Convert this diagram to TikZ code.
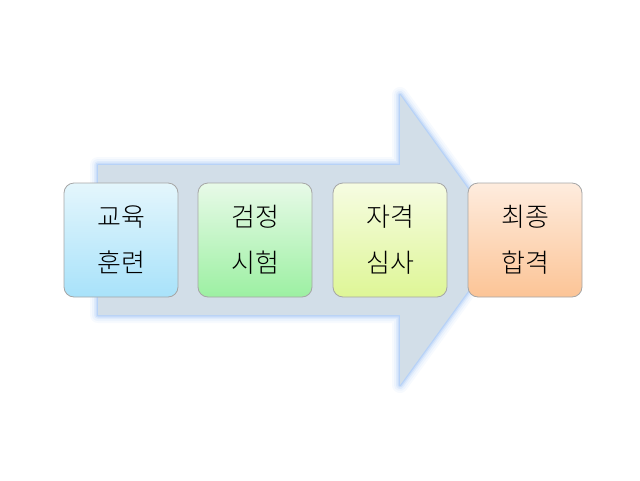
\documentclass[tikz,border=0pt]{standalone}
\usepackage{fontspec}
\newfontfamily\kr{Noto Sans CJK KR Light}
\tikzset{
 stage/.style={draw=black!35, line width=0.8pt, rounded corners=10pt, minimum width=114pt, minimum height=114pt, align=center, font=\kr\fontsize{26}{46}\selectfont, shading=axis, shading angle=0},
}
\begin{document}
\begin{tikzpicture}[x=1pt,y=-1pt]
\useasboundingbox (0,0) rectangle (640,480);
\foreach \w/\o in {16/0.06,12/0.08,8/0.12,5/0.18,2.5/0.25}{
 \draw[line width=\w pt, draw={rgb,255:red,120;green,170;blue,240}, opacity=\o, line join=round] (98,165) -- (400,165) -- (400,95) -- (505,240) -- (400,385) -- (400,315) -- (98,315) -- cycle;}
\fill[fill={rgb,255:red,210;green,222;blue,232}] (98,165) -- (400,165) -- (400,95) -- (505,240) -- (400,385) -- (400,315) -- (98,315) -- cycle;
\node[stage, top color={rgb,255:red,228;green,246;blue,252}, bottom color={rgb,255:red,168;green,226;blue,250}] (a) at (121,240) {교육\\훈련};
\node[stage, top color={rgb,255:red,232;green,250;blue,232}, bottom color={rgb,255:red,156;green,240;blue,162}] (b) at (255,240) {검정\\시험};
\node[stage, top color={rgb,255:red,246;green,252;blue,226}, bottom color={rgb,255:red,222;green,246;blue,150}] (c) at (390,240) {자격\\심사};
\node[stage, top color={rgb,255:red,254;green,236;blue,222}, bottom color={rgb,255:red,252;green,196;blue,150}] (d) at (525,240) {최종\\합격};
\end{tikzpicture}
\end{document}
